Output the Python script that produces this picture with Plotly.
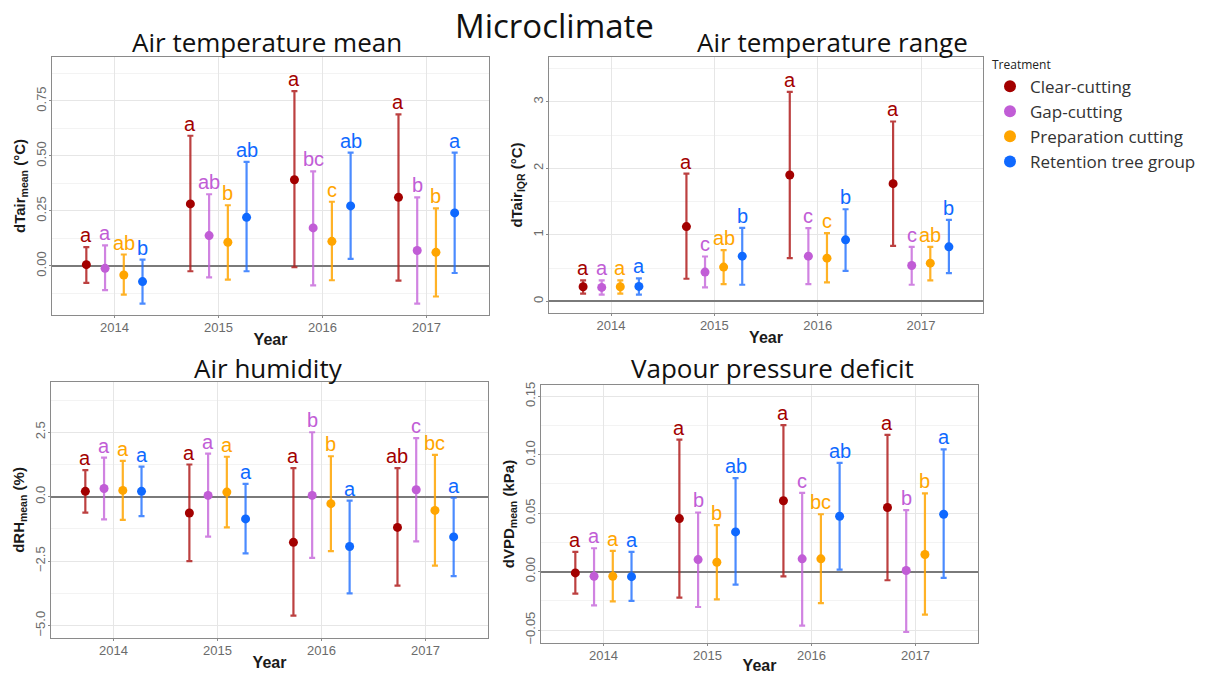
import plotly.graph_objects as go

# ---------------- data ----------------
years = [2014, 2015, 2016, 2017]
treatments = ["Clear-cutting", "Gap-cutting", "Preparation cutting", "Retention tree group"]
colors = ["#A30000", "#C15DD6", "#FFA500", "#0F69FF"]
bar_colors = ["rgba(176,30,30,0.85)", "rgba(196,100,218,0.8)", "rgba(255,165,0,0.85)", "rgba(30,110,255,0.8)"]

# Air temperature mean (dTair_mean, °C)
tmean_mean = [[0.006, 0.282, 0.392, 0.312], [-0.011, 0.138, 0.173, 0.070],
              [-0.041, 0.108, 0.112, 0.062], [-0.071, 0.221, 0.273, 0.241]]
tmean_upper = [[0.086, 0.592, 0.795, 0.689], [0.094, 0.326, 0.430, 0.312],
               [0.052, 0.276, 0.292, 0.262], [0.029, 0.473, 0.515, 0.515]]
tmean_lower = [[-0.077, -0.024, -0.006, -0.067], [-0.110, -0.052, -0.088, -0.171],
               [-0.130, -0.062, -0.065, -0.139], [-0.171, -0.024, 0.032, -0.032]]
tmean_letters = [["a", "a", "a", "a"], ["a", "ab", "bc", "b"],
                 ["ab", "b", "c", "b"], ["b", "ab", "ab", "a"]]

# Air temperature range (dTair_IQR, °C)
trange_mean = [[0.22, 1.125, 1.90, 1.77], [0.21, 0.44, 0.68, 0.54],
               [0.22, 0.515, 0.65, 0.575], [0.225, 0.68, 0.925, 0.82]]
trange_upper = [[0.315, 1.92, 3.15, 2.705], [0.315, 0.675, 1.10, 0.82],
                [0.315, 0.77, 1.025, 0.82], [0.345, 1.105, 1.385, 1.225]]
trange_lower = [[0.115, 0.34, 0.65, 0.835], [0.10, 0.21, 0.26, 0.25],
                [0.115, 0.26, 0.285, 0.315], [0.10, 0.25, 0.46, 0.425]]
trange_letters = [["a", "a", "a", "a"], ["a", "c", "c", "c"],
                  ["a", "ab", "c", "ab"], ["a", "b", "b", "b"]]

# Air humidity (dRH_mean, %)
rh_mean = [[0.21, -0.63, -1.77, -1.19], [0.32, 0.05, 0.05, 0.27],
           [0.245, 0.18, -0.27, -0.53], [0.21, -0.86, -1.93, -1.56]]
rh_upper = [[1.03, 1.25, 1.11, 1.11], [1.52, 1.675, 2.50, 2.27],
            [1.39, 1.55, 1.57, 1.62], [1.17, 0.50, -0.155, -0.04]]
rh_lower = [[-0.62, -2.50, -4.61, -3.45], [-0.88, -1.55, -2.37, -1.73],
            [-0.90, -1.19, -2.11, -2.67], [-0.75, -2.20, -3.75, -3.08]]
rh_letters = [["a", "a", "a", "ab"], ["a", "a", "b", "c"],
              ["a", "a", "b", "bc"], ["a", "a", "a", "a"]]

# Vapour pressure deficit (dVPD_mean, kPa)
vpd_mean = [[-0.0011, 0.0454, 0.0606, 0.0549], [-0.004, 0.0103, 0.0109, 0.0009],
            [-0.004, 0.008, 0.0109, 0.0146], [-0.0043, 0.034, 0.0474, 0.0491]]
vpd_upper = [[0.0169, 0.113, 0.1254, 0.1171], [0.020, 0.0506, 0.0674, 0.0526],
             [0.0177, 0.0397, 0.0491, 0.0669], [0.0169, 0.080, 0.0931, 0.1046]]
vpd_lower = [[-0.0189, -0.0223, -0.004, -0.0074], [-0.0289, -0.0303, -0.0463, -0.0517],
             [-0.0254, -0.0237, -0.0269, -0.0369], [-0.0251, -0.0111, 0.0017, -0.0054]]
vpd_letters = [["a", "a", "a", "a"], ["a", "b", "c", "b"],
               ["a", "b", "bc", "b"], ["a", "ab", "ab", "a"]]

panel_titles = ["Air temperature mean", "Air temperature range", "Air humidity", "Vapour pressure deficit"]
y_titles = ["<b>dTair<sub>mean</sub> (°C)</b>", "<b>dTair<sub>IQR</sub> (°C)</b>",
            "<b>dRH<sub>mean</sub> (%)</b>", "<b>dVPD<sub>mean</sub> (kPa)</b>"]
main_title = "Microclimate"
x_title = "Year"

# ---------------- layout helpers ----------------
# the page body has an 8px margin, so the figure is drawn 8px in from the corner
OFF = 8
W, H = 1210 - OFF, 674 - OFF
def px(x):
    return (x - OFF) / W
def py(y):
    return 1 - (y - OFF) / H

dodge = [-0.27, -0.09, 0.09, 0.27]

panels = [
    dict(data=(tmean_mean, tmean_upper, tmean_lower, tmean_letters), box=(52, 489, 57, 315),
         yrange=[-0.223, 0.95], dtick=0.25, fmt=".2f"),
    dict(data=(trange_mean, trange_upper, trange_lower, trange_letters), box=(549, 983, 57, 313),
         yrange=[-0.175, 3.675], dtick=1, fmt="d"),
    dict(data=(rh_mean, rh_upper, rh_lower, rh_letters), box=(51, 488, 382, 638),
         yrange=[-5.48, 4.45], dtick=2.5, fmt=".1f"),
    dict(data=(vpd_mean, vpd_upper, vpd_lower, vpd_letters), box=(541, 978, 385, 643),
         yrange=[-0.0611, 0.1597], dtick=0.05, fmt=".2f"),
]

fig = go.Figure()
annotations = []
layout_axes = {}

for p_i, p in enumerate(panels):
    means, uppers, lowers, letters = p["data"]
    sfx = "" if p_i == 0 else str(p_i + 1)
    xref = "x" + sfx
    yref = "y" + sfx
    for t_i, tname in enumerate(treatments):
        xs = [yr + dodge[t_i] for yr in years]
        m = means[t_i]
        up = [u - v for u, v in zip(uppers[t_i], m)]
        dn = [v - l for v, l in zip(m, lowers[t_i])]
        fig.add_trace(go.Scatter(
            x=xs, y=m, mode="markers", xaxis=xref, yaxis=yref,
            name=tname, legendgroup=tname, showlegend=(p_i == 0),
            marker=dict(color=colors[t_i], size=9),
            error_y=dict(type="data", symmetric=False, array=up, arrayminus=dn,
                         color=bar_colors[t_i], thickness=2.2, width=3),
        ))
        for j in range(len(years)):
            annotations.append(dict(
                x=xs[j], y=uppers[t_i][j], xref=xref, yref=yref,
                text=letters[t_i][j], showarrow=False, yanchor="bottom", yshift=-1,
                font=dict(family="Liberation Sans, Arial", size=20, color=colors[t_i]),
            ))
    x0, x1, y0, y1 = p["box"]
    axis_common = dict(showline=True, mirror=True, linecolor="#8a8a8a", linewidth=1.3,
                       ticks="outside", ticklen=2, tickcolor="#8a8a8a", automargin=False,
                       ticklabelstandoff=-2,
                       gridcolor="#E6E6E6", gridwidth=1,
                       tickfont=dict(family="Liberation Sans, Arial", size=13, color="#6b6b6b"))
    layout_axes["xaxis" + sfx] = dict(
        axis_common, domain=[px(x0), px(x1)], anchor=yref, range=[2013.4, 2017.6],
        tickvals=years, ticktext=[str(y) for y in years], zeroline=False,
        title=dict(text="<b>" + x_title + "</b>", standoff=0,
                   font=dict(family="Liberation Sans, Arial", size=16, color="#1a1a1a")),
    )
    layout_axes["yaxis" + sfx] = dict(
        axis_common, domain=[py(y1), py(y0)], anchor=xref, range=p["yrange"],
        tick0=0, dtick=p["dtick"], tickformat=p["fmt"], tickangle=-90,
        zeroline=True, zerolinecolor="#7a7a7a", zerolinewidth=2,
        minor=dict(dtick=p["dtick"] / 2, showgrid=True, gridcolor="#F3F3F3", ticks=""),
        title=dict(text=y_titles[p_i], standoff=4,
                   font=dict(family="Liberation Sans, Arial", size=15, color="#1a1a1a")),
    )

# titles
title_font = "Open Sans, Noto Sans"
annotations.append(dict(x=px(554), y=py(25), xref="paper", yref="paper", text=main_title,
                        showarrow=False, xanchor="center", yanchor="middle", height=34,
                        font=dict(family=title_font, size=33, color="#111111")))
title_pos = [(267, 42), (833, 42), (268, 368), (772, 368)]
for (tx, ty), tt in zip(title_pos, panel_titles):
    annotations.append(dict(x=px(tx), y=py(ty), xref="paper", yref="paper", text=tt,
                            showarrow=False, xanchor="center", yanchor="middle",
                            font=dict(family=title_font, size=26, color="#111111")))

fig.update_layout(
    width=W, height=H, margin=dict(l=0, r=0, t=0, b=0, autoexpand=False),
    paper_bgcolor="white", plot_bgcolor="white",
    annotations=annotations,
    legend=dict(x=px(990), y=py(53), xanchor="left", yanchor="top",
                title=dict(text="Treatment", font=dict(family=title_font, size=12, color="#222")),
                font=dict(family=title_font, size=17, color="#333"),
                bgcolor="rgba(0,0,0,0)", itemsizing="constant", tracegroupgap=0),
    **layout_axes,
)

fig.write_html("out.html")
